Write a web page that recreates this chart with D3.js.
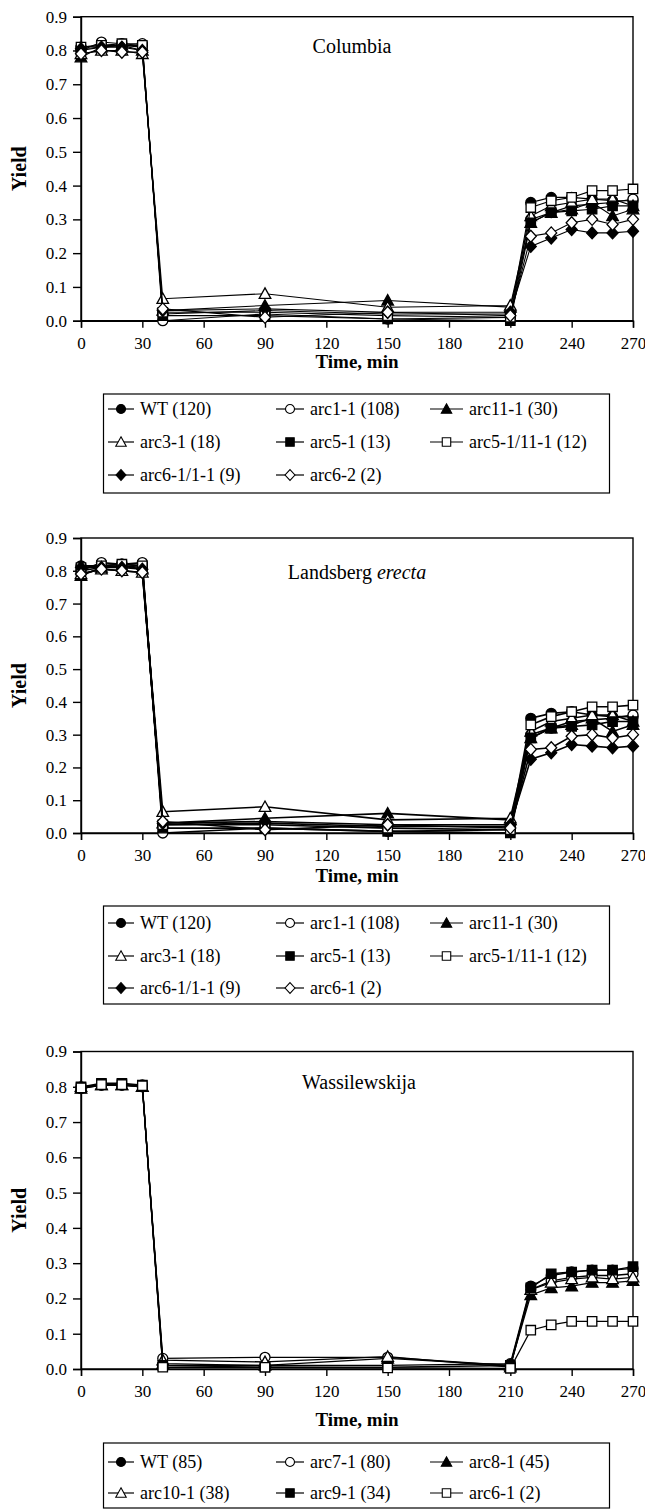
<!DOCTYPE html>
<html><head><meta charset="utf-8">
<script src="https://cdn.jsdelivr.net/npm/d3@7/dist/d3.min.js"></script>
<style>
body{margin:0;background:#fff}
svg{display:block}
text{font-family:"Liberation Serif","Times New Roman",serif;fill:#000}
</style>
</head><body>
<svg id="chart" width="645" height="1509"></svg>
<script>
// ---------- shared data ----------
const times = [0,10,20,30,40,90,150,210,220,230,240,250,260,270];
const xTickValues = [0,30,60,90,120,150,180,210,240,270];
const yTickValues = [0,0.1,0.2,0.3,0.4,0.5,0.6,0.7,0.8,0.9];
const xTitle = "Time, min";
const yTitle = "Yield";

// ---------- Panel 1: Columbia ----------
const colTitle = "Columbia";
const colNames = ["WT (120)","arc1-1 (108)","arc11-1 (30)","arc3-1 (18)","arc5-1 (13)","arc5-1/11-1 (12)","arc6-1/1-1 (9)","arc6-2 (2)"];
const colShapes = ["circleF","circleO","triF","triO","squareF","squareO","diamondF","diamondO"];
const colWT     = [0.81,0.815,0.815,0.815,0.020,0.030,0.020,0.020,0.350,0.365,0.365,0.360,0.355,0.355];
const colArc1   = [0.80,0.825,0.820,0.820,0.000,0.020,0.005,0.010,0.300,0.320,0.340,0.345,0.350,0.360];
const colArc11  = [0.78,0.810,0.815,0.800,0.030,0.045,0.060,0.040,0.290,0.320,0.330,0.350,0.310,0.330];
const colArc3   = [0.79,0.800,0.800,0.790,0.065,0.080,0.040,0.045,0.310,0.340,0.350,0.360,0.360,0.340];
const colArc5   = [0.80,0.810,0.815,0.810,0.015,0.015,0.005,0.000,0.290,0.320,0.325,0.330,0.340,0.340];
const colArc511 = [0.81,0.815,0.820,0.815,0.025,0.025,0.015,0.010,0.335,0.355,0.365,0.385,0.385,0.390];
const colArc61  = [0.805,0.810,0.810,0.800,0.030,0.035,0.025,0.025,0.220,0.245,0.270,0.260,0.260,0.265];
const colArc62  = [0.79,0.800,0.795,0.795,0.035,0.010,0.025,0.015,0.250,0.260,0.290,0.300,0.285,0.300];

// ---------- Panel 2: Landsberg erecta ----------
const lerNames = ["WT (120)","arc1-1 (108)","arc11-1 (30)","arc3-1 (18)","arc5-1 (13)","arc5-1/11-1 (12)","arc6-1/1-1 (9)","arc6-1 (2)"];
const lerShapes = ["circleF","circleO","triF","triO","squareF","squareO","diamondF","diamondO"];
const lerWT     = [0.815,0.815,0.820,0.815,0.025,0.030,0.020,0.020,0.350,0.365,0.370,0.360,0.355,0.355];
const lerArc1   = [0.80,0.825,0.820,0.825,0.000,0.015,0.005,0.010,0.300,0.320,0.340,0.345,0.350,0.360];
const lerArc11  = [0.785,0.810,0.815,0.805,0.030,0.045,0.060,0.040,0.290,0.320,0.330,0.350,0.310,0.330];
const lerArc3   = [0.79,0.805,0.800,0.795,0.065,0.080,0.040,0.045,0.310,0.340,0.350,0.360,0.360,0.340];
const lerArc5   = [0.80,0.810,0.815,0.810,0.015,0.015,0.005,0.000,0.290,0.320,0.325,0.330,0.340,0.340];
const lerArc511 = [0.81,0.815,0.820,0.815,0.025,0.025,0.015,0.010,0.330,0.355,0.370,0.385,0.385,0.390];
const lerArc61  = [0.81,0.810,0.810,0.805,0.030,0.035,0.025,0.025,0.225,0.245,0.270,0.265,0.260,0.265];
const lerArc62  = [0.79,0.805,0.800,0.795,0.035,0.010,0.025,0.015,0.255,0.260,0.295,0.300,0.290,0.300];

// ---------- Panel 3: Wassilewskija ----------
const wsTitle = "Wassilewskija";
const wsNames = ["WT (85)","arc7-1 (80)","arc8-1 (45)","arc10-1 (38)","arc9-1 (34)","arc6-1 (2)"];
const wsShapes = ["circleF","circleO","triF","triO","squareF","squareO"];
const wsWT     = [0.800,0.805,0.805,0.805,0.010,0.010,0.010,0.015,0.235,0.265,0.275,0.280,0.280,0.285];
const wsArc7   = [0.795,0.805,0.805,0.800,0.030,0.033,0.033,0.010,0.225,0.250,0.260,0.265,0.265,0.270];
const wsArc8   = [0.795,0.805,0.805,0.800,0.015,0.010,0.030,0.010,0.210,0.230,0.235,0.245,0.245,0.250];
const wsArc10  = [0.800,0.805,0.805,0.800,0.025,0.020,0.035,0.005,0.225,0.245,0.255,0.260,0.255,0.260];
const wsArc9   = [0.800,0.810,0.810,0.805,0.010,0.005,0.005,0.010,0.230,0.270,0.275,0.280,0.280,0.290];
const wsArc6   = [0.797,0.806,0.806,0.803,0.005,0.005,0.003,0.002,0.110,0.125,0.135,0.135,0.135,0.135];

// ---------- drawing ----------
const svg = d3.select("#chart");

function markerPath(shape, s) {
  const k = shape.replace(/[FO]$/, "");
  if (k === "circle") { const r = s*0.5; return `M${-r},0A${r},${r} 0 1,0 ${r},0A${r},${r} 0 1,0 ${-r},0Z`; }
  if (k === "square") { const h = s*0.47; return `M${-h},${-h}H${h}V${h}H${-h}Z`; }
  if (k === "tri") { const h = s*0.58; return `M0,${-h}L${h},${h*0.8}L${-h},${h*0.8}Z`; }
  if (k === "diamond") { const w = s*0.55, h = s*0.6; return `M0,${-h}L${w},0L0,${h}L${-w},0Z`; }
}
function fillOf(shape){ return shape.endsWith("F") ? "#000" : "#fff"; }

const L = 81, R = 633;
const x = d3.scaleLinear().domain([0,270]).range([L,R]);

function drawPanel(p) {
  const g = svg.append("g");
  const y = d3.scaleLinear().domain([0,0.9]).range([p.bottom, p.top]);

  // frame
  g.append("rect").attr("x",L).attr("y",p.top).attr("width",R-L).attr("height",p.bottom-p.top)
    .attr("fill","none").attr("stroke","#000").attr("stroke-width",1.4);

  const ya = d3.axisLeft(y).tickValues(yTickValues).tickFormat(d3.format(".1f")).tickSize(8).tickPadding(6);
  const yg = g.append("g").attr("transform",`translate(${L},0)`).call(ya);
  const xa = d3.axisBottom(x).tickValues(xTickValues).tickFormat(d3.format("d")).tickSize(7).tickPadding(9);
  const xg = g.append("g").attr("transform",`translate(0,${p.bottom})`).call(xa);
  [yg,xg].forEach(a=>{
    a.attr("font-family",null);
    a.select(".domain").attr("stroke","#000").attr("stroke-width",1.4);
    a.selectAll(".tick line").attr("stroke","#000").attr("stroke-width",1.4);
    a.selectAll(".tick text").attr("font-size",17).attr("fill","#000");
  });

  // axis titles
  g.append("text").attr("transform",`translate(26,${(p.top+p.bottom)/2}) rotate(-90)`)
    .attr("text-anchor","middle").attr("font-size",20).attr("font-weight","bold").text(yTitle);
  g.append("text").attr("x",(L+R)/2).attr("y",p.xTitleY).attr("text-anchor","middle")
    .attr("font-size",19).attr("font-weight","bold").text(xTitle);

  // panel title
  const t = g.append("text").attr("x",p.titleX).attr("y",p.titleY).attr("text-anchor","middle").attr("font-size",20);
  p.title.forEach(part => t.append("tspan").attr("font-style",part.italic?"italic":"normal").text(part.text));

  // series
  const line = d3.line().x((d,i)=>x(times[i])).y(d=>y(d));
  p.series.forEach((vals, si) => {
    g.append("path").attr("d", line(vals)).attr("fill","none").attr("stroke","#000").attr("stroke-width",p.lw);
    g.selectAll(null).data(vals).enter().append("path")
      .attr("transform",(d,i)=>`translate(${x(times[i])},${y(d)})`)
      .attr("d", markerPath(p.shapes[si], 10))
      .attr("fill", fillOf(p.shapes[si])).attr("stroke","#000").attr("stroke-width",1.3);
  });

  // legend
  const lg = g.append("g");
  lg.append("rect").attr("x",103.5).attr("y",p.legTop).attr("width",506).attr("height",p.legBottom-p.legTop)
    .attr("fill","#fff").attr("stroke","#000").attr("stroke-width",1.2);
  const colX = [108, 276, 430];
  const lineW = [26, 28, 33];
  p.names.forEach((nm, i) => {
    const c = i % 3, r = Math.floor(i / 3);
    const cy = p.legRows[r];
    const x0 = colX[c], x1 = colX[c] + lineW[c];
    lg.append("line").attr("x1",x0).attr("x2",x1).attr("y1",cy).attr("y2",cy).attr("stroke","#000").attr("stroke-width",1.2);
    lg.append("path").attr("transform",`translate(${(x0+x1)/2},${cy})`).attr("d",markerPath(p.shapes[i],9))
      .attr("fill",fillOf(p.shapes[i])).attr("stroke","#000").attr("stroke-width",1.1);
    lg.append("text").attr("x",x1+6).attr("y",cy).attr("dy","0.34em").attr("font-size",18).text(nm);
  });
}

drawPanel({
  top:16.7, bottom:320.7, titleX:352, titleY:53, xTitleY:368, lw:1.1,
  title:[{text:colTitle}],
  names:colNames, shapes:colShapes,
  series:[colWT,colArc1,colArc11,colArc3,colArc5,colArc511,colArc61,colArc62],
  legTop:394, legBottom:493, legRows:[409,442,475]
});
drawPanel({
  top:538, bottom:833, titleX:357, titleY:579, xTitleY:882, lw:1.6,
  title:[{text:"Landsberg "},{text:"erecta",italic:true}],
  names:lerNames, shapes:lerShapes,
  series:[lerWT,lerArc1,lerArc11,lerArc3,lerArc5,lerArc511,lerArc61,lerArc62],
  legTop:906, legBottom:1004, legRows:[923,956,988]
});
drawPanel({
  top:1051.5, bottom:1369, titleX:359, titleY:1089, xTitleY:1426, lw:1.3,
  title:[{text:wsTitle}],
  names:wsNames, shapes:wsShapes,
  series:[wsWT,wsArc7,wsArc8,wsArc10,wsArc9,wsArc6],
  legTop:1443, legBottom:1508, legRows:[1462,1493]
});
</script>
</body></html>
